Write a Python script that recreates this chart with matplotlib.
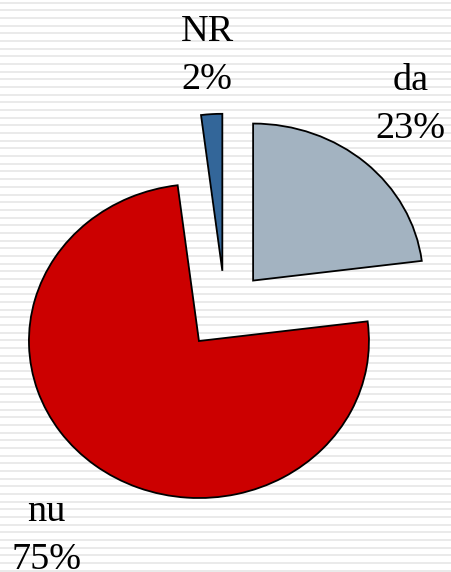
import numpy as np
import matplotlib.pyplot as plt

# Date
etichete = ['da', 'nu', 'NR']
procente = [23, 75, 2]
culori = ['#A3B3C1', '#CC0000', '#336699']
explodare = [0.25, 0.25, 0.25]

# pozitii etichete (unitati de raza)
poz_etichete = [(1.09, 1.305), (-1.05, -1.44), (-0.105, 1.62)]

fig = plt.figure(figsize=(4.51, 5.72), dpi=100)
ax = fig.add_axes([0, 0, 1, 1])

# fundal cu dungi orizontale
W, H = 451, 572
cx, cy = 225, 310
rx, ry = 170, 157
x0, x1 = -cx / rx, (W - cx) / rx
y0, y1 = -(H - cy) / ry, cy / ry
for yp in np.arange(2.5, H, 7.68):
    ax.axhline(y1 - yp / ry, color='#e4e4e4', lw=1.1, zorder=0)

ax.pie(procente, colors=culori, explode=explodare, startangle=90,
       counterclock=False, radius=1.0,
       wedgeprops=dict(edgecolor='black', linewidth=1.3))

for et, p, (tx, ty) in zip(etichete, procente, poz_etichete):
    ax.text(tx, ty, f'{et}\n{p}%', ha='center', va='center',
            fontsize=27.5, family='Liberation Serif', linespacing=1.5)

ax.set_aspect('auto')
ax.set_xlim(x0, x1)
ax.set_ylim(y0, y1)
ax.axis('off')

fig.savefig('out.png', dpi=100)
